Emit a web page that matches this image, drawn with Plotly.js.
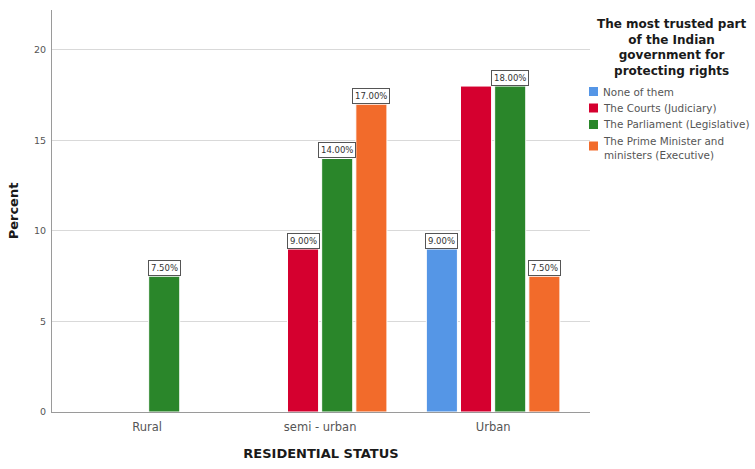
<!DOCTYPE html>
<html>
<head>
<meta charset="utf-8">
<script src="https://cdn.plot.ly/plotly-3.0.1.min.js"></script>
<style>
  html, body { margin: 0; padding: 0; background: #fff; }
  #chart { width: 755px; height: 469px; }
</style>
</head>
<body>
<div id="chart"></div>
<script>
// Residential status groups along the x axis
const categories = ['Rural', 'semi - urban', 'Urban'];

// Percent of respondents per answer, one array per series
const seriesNames = [
  'None of them',
  'The Courts (Judiciary)',
  'The Parliament (Legislative)',
  'The Prime Minister and<br>ministers (Executive)'
];
const noneOfThem = [null, null, 9.0];
const courts = [null, 9.0, 18.0];
const parliament = [7.5, 14.0, 18.0];
const primeMinister = [null, 17.0, 7.5];

// Which bars carry a value label
const labelNone = [false, false, true];
const labelCourts = [false, true, false];
const labelParliament = [true, true, true];
const labelPrimeMinister = [false, true, true];

const yTicks = [0, 5, 10, 15, 20];
const legendTitle = 'The most trusted part<br>of the Indian<br>government for<br>protecting rights';

const colors = ['#5596E6', '#D5002F', '#2A862A', '#F26B2B'];
const values = [noneOfThem, courts, parliament, primeMinister];
const labelFlags = [labelNone, labelCourts, labelParliament, labelPrimeMinister];

const FONT = 'DejaVu Sans, Verdana, sans-serif';
const W = 755, H = 469;
const M = { l: 52, r: 165, t: 10, b: 57 };
const plotW = W - M.l - M.r, plotH = H - M.t - M.b;
// pixel -> paper coordinates (for the legend block on the right)
const px = x => (x - M.l) / plotW;
const py = y => (H - M.b - y) / plotH;

const bargap = 0.21;
const nSeries = values.length;
const slot = (1 - bargap) / nSeries;

const traces = values.map((v, i) => ({
  type: 'bar',
  name: seriesNames[i].replace('<br>', ' '),
  x: categories,
  y: v,
  showlegend: false,
  marker: { color: colors[i], line: { color: '#ffffff', width: 1 } },
  hoverinfo: 'x+y+name'
}));

const annotations = [];
const shapes = [];

// value labels sitting on top of the bars
values.forEach((v, i) => {
  v.forEach((val, c) => {
    if (val === null || !labelFlags[i][c]) return;
    annotations.push({
      x: c + (i - (nSeries - 1) / 2) * slot,
      y: val,
      xref: 'x', yref: 'y',
      text: val.toFixed(2) + '%',
      showarrow: false,
      yanchor: 'bottom',
      xanchor: 'center',
      bgcolor: '#ffffff',
      bordercolor: '#555555',
      borderwidth: 1,
      borderpad: 2,
      font: { family: FONT, size: 8.5, color: '#333333' }
    });
  });
});

// legend block: centred bold title, then swatch + label rows
annotations.push({
  xref: 'paper', yref: 'paper',
  x: px(671), y: py(15),
  xanchor: 'center', yanchor: 'top',
  align: 'center',
  showarrow: false,
  text: legendTitle,
  font: { family: FONT, size: 12, color: '#1a1a1a', weight: 'bold' }
});
const rowY = [91.5, 108, 124.5, 146];
seriesNames.forEach((name, i) => {
  const y = rowY[i];
  const multiLine = name.indexOf('<br>') >= 0;
  shapes.push({
    type: 'rect', xref: 'paper', yref: 'paper',
    x0: px(589), x1: px(598), y0: py(y - 4.5), y1: py(y + 4.5),
    fillcolor: colors[i], line: { width: 0 }
  });
  annotations.push({
    xref: 'paper', yref: 'paper',
    x: px(601), y: py(multiLine ? y + 1.5 : y),
    xanchor: 'left', yanchor: 'middle',
    align: 'left',
    showarrow: false,
    text: name,
    font: { family: FONT, size: 10.4, color: '#555555' }
  });
});

const layout = {
  width: W,
  height: H,
  margin: M,
  paper_bgcolor: '#ffffff',
  plot_bgcolor: '#ffffff',
  barmode: 'group',
  bargap: bargap,
  bargroupgap: 0.09,
  showlegend: false,
  font: { family: FONT, color: '#333333' },
  xaxis: {
    type: 'category',
    range: [-0.55, 2.56],
    showline: true,
    linecolor: '#9a9a9a',
    linewidth: 1,
    showgrid: false,
    zeroline: false,
    ticks: 'outside',
    ticklen: 4,
    tickcolor: 'rgba(0,0,0,0)',
    tickfont: { family: FONT, size: 11.5, color: '#555555' },
    title: {
      text: 'RESIDENTIAL STATUS',
      font: { family: FONT, size: 13, color: '#1a1a1a', weight: 'bold' },
      standoff: 16
    }
  },
  yaxis: {
    range: [0, 22.2],
    tickvals: yTicks,
    ticktext: yTicks.map(String),
    showline: true,
    linecolor: '#9a9a9a',
    linewidth: 1,
    showgrid: true,
    gridcolor: '#d9d9d9',
    gridwidth: 1,
    zeroline: false,
    ticks: 'outside',
    ticklen: 3,
    tickcolor: 'rgba(0,0,0,0)',
    tickfont: { family: FONT, size: 9.5, color: '#555555' },
    title: {
      text: 'Percent',
      font: { family: FONT, size: 13, color: '#1a1a1a', weight: 'bold' },
      standoff: 12
    }
  },
  annotations: annotations,
  shapes: shapes
};

Plotly.newPlot('chart', traces, layout, { displayModeBar: false, staticPlot: true });
</script>
</body>
</html>
